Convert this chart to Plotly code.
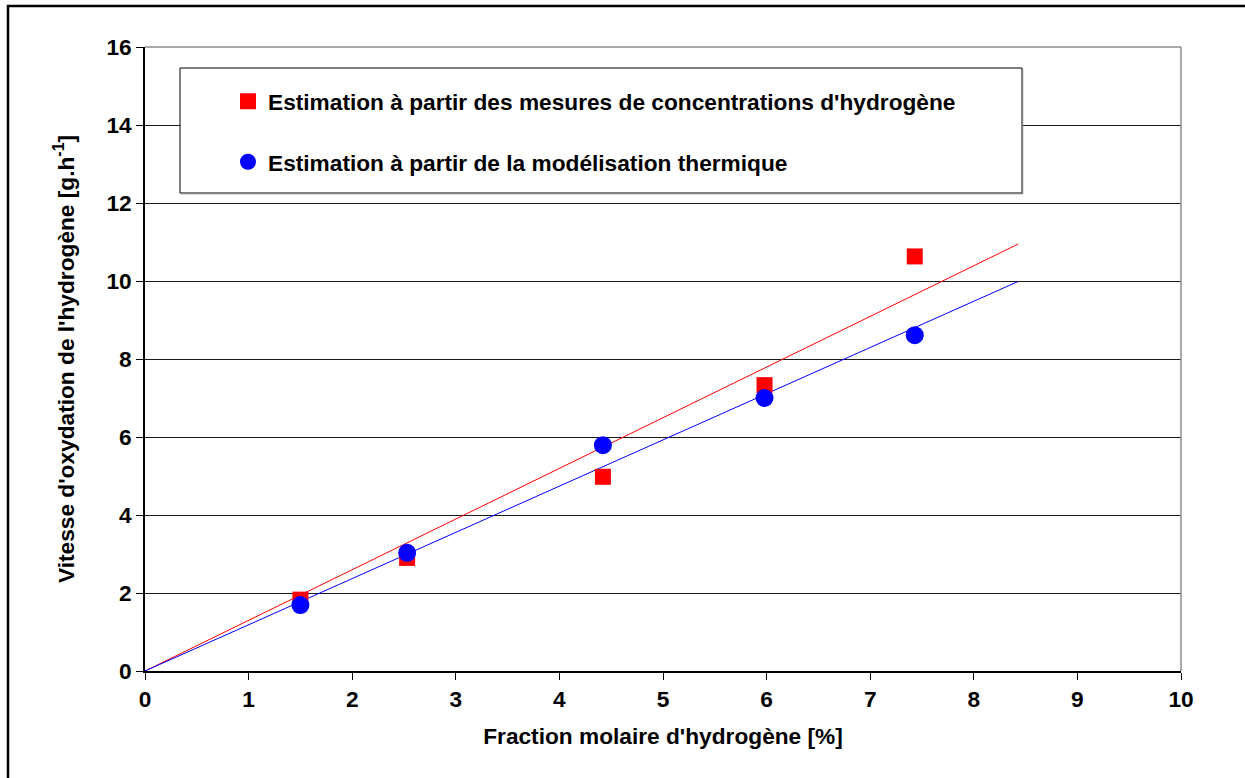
import plotly.graph_objects as go

# Hydrogen molar fraction [%] for each test
fraction_h2 = [1.5, 2.53, 4.42, 5.98, 7.43]

# Oxidation rate estimated from hydrogen concentration measurements [g/h]
rate_mesures = [1.83, 2.9, 4.98, 7.33, 10.63]

# Oxidation rate estimated from thermal modelling [g/h]
rate_thermique = [1.69, 3.03, 5.79, 7.0, 8.61]

# Linear trend lines through the origin
fit_x = [0, 8.43]
fit_mesures = [0, 10.95]
fit_thermique = [0, 9.99]

x_ticks = list(range(0, 11))
y_ticks = list(range(0, 17, 2))

FONT = "Arial, 'Liberation Sans', sans-serif"
FS = 22.7
RED = "#FF0000"
BLUE = "#0000FF"

fig = go.Figure()

fig.add_trace(go.Scatter(
    x=fit_x, y=fit_mesures, mode="lines",
    line=dict(color=RED, width=1), showlegend=False, hoverinfo="skip",
))
fig.add_trace(go.Scatter(
    x=fit_x, y=fit_thermique, mode="lines",
    line=dict(color=BLUE, width=1), showlegend=False, hoverinfo="skip",
))
fig.add_trace(go.Scatter(
    x=fraction_h2, y=rate_mesures, mode="markers",
    name="Estimation à partir des mesures de concentrations d'hydrogène",
    marker=dict(symbol="square", size=16, color=RED, line=dict(width=0)),
    legendgroup="mesures",
))
fig.add_trace(go.Scatter(
    x=fraction_h2, y=rate_thermique, mode="markers",
    name="Estimation à partir de la modélisation thermique",
    marker=dict(symbol="circle", size=18, color=BLUE, line=dict(width=0)),
    legendgroup="thermique",
))

W, H = 1245, 778
ml, mr, mt, mb = 145, 64, 47, 107
pw, ph = W - ml - mr, H - mt - mb


def px_x(x):
    return (x - ml) / pw


def px_y(y):
    return (H - mb - y) / ph


shapes = [
    # outer frame around the whole chart
    dict(type="rect", xref="paper", yref="paper",
         x0=px_x(8), x1=px_x(1260), y0=px_y(800), y1=px_y(6),
         line=dict(color="black", width=2.5), layer="above"),
    # top and right borders of the plotting area
    dict(type="line", xref="paper", yref="paper", x0=0, x1=1, y0=1, y1=1,
         line=dict(color="#8c8c8c", width=1.5), layer="above"),
    dict(type="line", xref="paper", yref="paper", x0=1, x1=1, y0=0, y1=1,
         line=dict(color="#8c8c8c", width=1.5), layer="above"),
    # legend box
    dict(type="rect", xref="paper", yref="paper",
         x0=px_x(180), x1=px_x(1022), y0=px_y(193), y1=px_y(68),
         line=dict(color="black", width=1), fillcolor="white", layer="above"),
    dict(type="line", xref="paper", yref="paper",
         x0=px_x(181), x1=px_x(1023), y0=px_y(193.5), y1=px_y(193.5),
         line=dict(color="#808080", width=1.5), layer="above"),
    dict(type="line", xref="paper", yref="paper",
         x0=px_x(1022.5), x1=px_x(1022.5), y0=px_y(69), y1=px_y(194),
         line=dict(color="#808080", width=1.5), layer="above"),
]

fig.update_layout(
    width=W, height=H,
    margin=dict(l=ml, r=mr, t=mt, b=mb, pad=0),
    paper_bgcolor="white", plot_bgcolor="white",
    font=dict(family=FONT, size=FS, color="black"),
    shapes=shapes,
    showlegend=True,
    legend=dict(
        x=px_x(228), y=px_y(80), xanchor="left", yanchor="top",
        bgcolor="rgba(0,0,0,0)", borderwidth=0,
        font=dict(family=FONT, size=FS, color="black", weight="bold"),
        tracegroupgap=28, itemwidth=30,
    ),
    xaxis=dict(
        range=[0, 10], tickvals=x_ticks, ticktext=[str(v) for v in x_ticks],
        showgrid=False, zeroline=False,
        showline=True, linecolor="black", linewidth=1.5,
        ticks="outside", ticklen=7, tickwidth=1, tickcolor="black",
        tickfont=dict(family=FONT, size=FS, weight="bold"),
        title=dict(text="Fraction molaire d'hydrogène [%]",
                   font=dict(family=FONT, size=FS, weight="bold"), standoff=17),
        fixedrange=True,
    ),
    yaxis=dict(
        range=[0, 16], tickvals=y_ticks, ticktext=[str(v) for v in y_ticks],
        showgrid=True, gridcolor="#1a1a1a", gridwidth=1, zeroline=False,
        showline=True, linecolor="black", linewidth=1.5,
        ticks="outside", ticklen=7, tickwidth=1, tickcolor="black",
        tickfont=dict(family=FONT, size=FS, weight="bold"),
        title=dict(text="Vitesse d'oxydation de l'hydrogène [g.h<sup>-1</sup>]",
                   font=dict(family=FONT, size=FS, weight="bold"), standoff=26),
        fixedrange=True,
    ),
)

fig.write_html("out.html")
